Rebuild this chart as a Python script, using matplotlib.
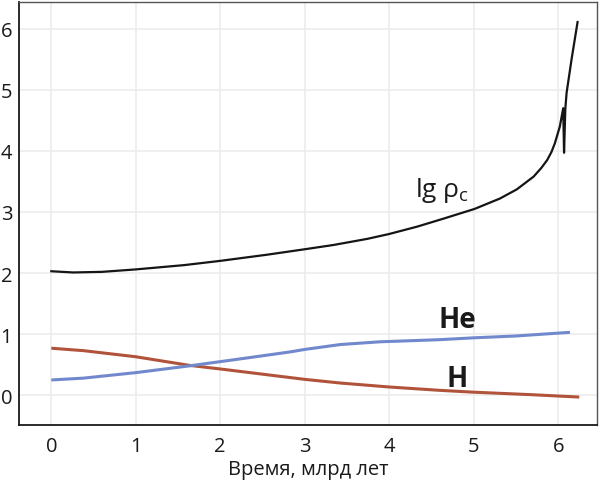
import matplotlib

matplotlib.use("Agg")
import matplotlib.pyplot as plt  # noqa: E402

plt.rcParams["font.family"] = ["Open Sans", "DejaVu Sans"]

# central density, lg rho_c
t_rho = [0.0, 0.26, 0.6, 1.0, 1.57, 2.0, 2.55, 3.0, 3.34, 3.74, 4.0, 4.33,
         4.64, 5.01, 5.31, 5.51, 5.71, 5.80, 5.87, 5.92, 5.96, 6.02, 6.06,
         6.07, 6.085, 6.10, 6.16, 6.23]
lg_rho = [2.03, 2.01, 2.02, 2.06, 2.13, 2.20, 2.30, 2.39, 2.46, 2.56, 2.64,
          2.76, 2.89, 3.05, 3.22, 3.37, 3.58, 3.72, 3.85, 3.98, 4.12, 4.40,
          4.70, 3.97, 4.69, 4.95, 5.51, 6.11]

# hydrogen mass fraction in the core
t_h = [0.0, 0.38, 1.0, 1.63, 2.0, 2.47, 3.0, 3.42, 4.0, 4.6, 5.0, 5.67, 6.25]
x_h = [0.77, 0.73, 0.63, 0.49, 0.43, 0.35, 0.26, 0.20, 0.135, 0.08, 0.05,
       0.01, -0.03]

# helium mass fraction in the core
t_he = [0.0, 0.38, 1.0, 1.63, 2.0, 2.47, 2.83, 3.0, 3.42, 3.89, 4.2, 4.6,
        5.0, 5.5, 6.14]
x_he = [0.25, 0.28, 0.37, 0.48, 0.55, 0.64, 0.71, 0.75, 0.83, 0.875, 0.89,
        0.91, 0.94, 0.97, 1.03]

RED = "#b0533a"
BLUE = "#7189cc"
INK = "#1a1a1a"

fig = plt.figure(figsize=(6.0, 4.81), dpi=100)
ax = fig.add_axes([0.032, 0.114, 0.963, 0.880])

ax.plot(t_h, x_h, color=RED, lw=2.2, solid_capstyle="butt", zorder=3)
ax.plot(t_he, x_he, color=BLUE, lw=2.2, solid_capstyle="butt", zorder=4)
ax.plot(t_rho, lg_rho, color="#151515", lw=1.6, zorder=5)

ax.text(4.30, 3.27, r"lg $\mathregular{\rho_c}$", fontsize=19, ha="left",
        va="baseline", color=INK)
ax.text(4.58, 1.11, "He", fontsize=20, fontweight="bold", ha="left",
        va="baseline", color=INK)
ax.text(4.68, 0.15, "H", fontsize=20, fontweight="bold", ha="left",
        va="baseline", color=INK)

ax.set_xlim(-0.38, 6.46)
ax.set_ylim(-0.49, 6.44)
ax.set_xticks(range(0, 7))
ax.set_yticks(range(0, 7))
ax.grid(True, color="#ececec", lw=1.2)
ax.set_axisbelow(True)
ax.tick_params(length=0, labelsize=14.5, colors=INK)
ax.tick_params(axis="x", pad=8)
ax.tick_params(axis="y", pad=5)
for side in ["left", "bottom"]:
    ax.spines[side].set_color(INK)
    ax.spines[side].set_linewidth(1.3)
for side in ["top", "right"]:
    ax.spines[side].set_color("#555555")
    ax.spines[side].set_linewidth(1.0)

ax.set_xlabel("Время, млрд лет", fontsize=14.5, color=INK, labelpad=2)

fig.savefig("out.png", dpi=100, facecolor="white")
